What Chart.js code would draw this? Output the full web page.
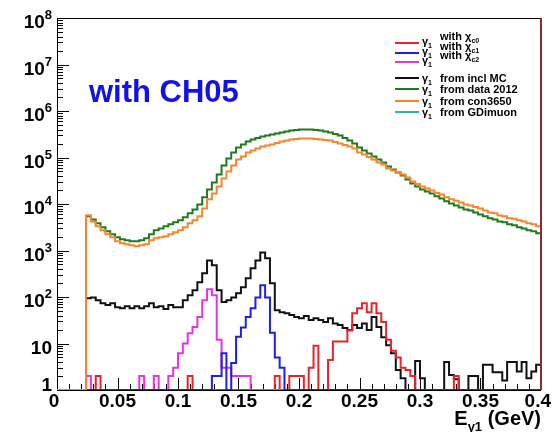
<!DOCTYPE html>
<html>
<head>
<meta charset="utf-8">
<script src="https://cdn.jsdelivr.net/npm/chart.js@4.4.0/dist/chart.umd.min.js"></script>
<style>
  html, body { margin: 0; padding: 0; background: #fff; }
</style>
</head>
<body>
<canvas id="myChart" width="554" height="432"></canvas>
<script>
// binning of the E_gamma1 histograms: 100 bins, 0 - 0.4 GeV
const xMin = 0;
const xMax = 0.4;
const nBins = 100;

const xTicks = [0, 0.05, 0.1, 0.15, 0.2, 0.25, 0.3, 0.35, 0.4];
const xTickLabels = ['0', '0.05', '0.1', '0.15', '0.2', '0.25', '0.3', '0.35', '0.4'];
const yTicks = [1, 1e1, 1e2, 1e3, 1e4, 1e5, 1e6, 1e7, 1e8];
const yTickLabels = ['1', '10', '10^{2}', '10^{3}', '10^{4}', '10^{5}', '10^{6}', '10^{7}', '10^{8}'];

const seriesNames = ['with χ_{c0}', 'with χ_{c1}', 'with χ_{c2}', 'from incl MC', 'from data 2012', 'from con3650', 'from GDimuon'];
const seriesColors = ['#e8232a', '#1f1fe6', '#e633e6', '#111111', '#1e7b1e', '#f7862f', '#2ab5b5'];

// bin contents (empty bins sit on the axis minimum, 1)
const chic0 = [
  1, 1, 1, 1, 1, 1, 1, 1, 2, 1,
  1, 1, 1, 1, 1, 1, 1, 1, 1, 1,
  1, 1, 1, 1, 1, 1, 1, 2, 1, 1,
  1, 1, 1, 1, 1, 1, 1, 1, 1, 1,
  1, 1, 1, 1, 1, 2, 1, 1, 2, 2,
  2, 1, 3, 9, 1, 1, 4.4, 11, 11, 11,
  19, 45, 57, 73, 47, 73, 45, 29, 12, 7,
  5, 3, 2.7, 2, 1, 1, 1, 1, 1, 1,
  1, 1, 2, 1, 1, 1, 1, 1, 1, 1,
  1, 1, 1, 1, 1, 1, 1, 1, 1, 1,
];
const chic1 = [
  1, 1, 1, 1, 1, 1, 1, 1, 1, 1,
  1, 1, 1, 1, 1, 1, 1, 1, 1, 1,
  1, 1, 1, 1, 1, 1, 1, 1, 1, 1,
  1, 1, 2, 2, 6.2, 1, 3.8, 14, 22, 37,
  57, 98, 180, 98, 17, 5, 3, 1, 1, 1,
  1, 1, 1, 1, 1, 1, 1, 1, 1, 1,
  1, 1, 1, 1, 1, 1, 1, 1, 1, 1,
  1, 1, 1, 1, 1, 1, 1, 1, 1, 1,
  1, 1, 1, 1, 1, 1, 1, 1, 1, 1,
  1, 1, 1, 1, 1, 1, 1, 1, 1, 1,
];
const chic2 = [
  1, 1, 1, 1, 1, 1, 2, 1, 1, 1,
  1, 1, 1, 1, 1, 1, 1, 2, 1, 1,
  2, 1, 1, 2, 3, 6.2, 10, 16.7, 22.5, 37,
  85, 147, 109, 12, 3, 3, 2, 2, 2, 2,
  1, 1, 1, 1, 1, 1, 1, 1, 1, 1,
  1, 1, 1, 1, 1, 1, 1, 1, 1, 1,
  1, 1, 1, 1, 1, 1, 1, 1, 1, 1,
  1, 1, 1, 1, 1, 1, 1, 1, 1, 1,
  1, 1, 1, 1, 1, 1, 1, 1, 1, 1,
  1, 1, 1, 1, 1, 1, 1, 1, 1, 1,
];
const inclMC = [
  1, 1, 1, 1, 1, 1, 94, 98, 85, 73,
  67, 73, 60, 57, 63, 57, 63, 57, 63, 73,
  60, 63, 55, 67, 60, 60, 85, 109, 139, 207,
  325, 610, 480, 139, 78, 85, 98, 120, 162, 253,
  415, 610, 910, 680, 197, 52, 47, 45, 41, 37,
  35, 39, 32, 35, 32, 29, 35, 27, 25, 21.5,
  19.4, 25, 21.5, 27, 19.4, 37, 22.5, 13.7, 9.2, 6.2,
  2.7, 1.8, 1, 1, 4.2, 1.8, 1, 1, 1, 1,
  4, 2.1, 1.7, 1, 1, 2, 2, 1, 3.5, 3.5,
  2.4, 2.4, 1.6, 4, 4, 2.5, 4, 1.8, 2.5, 3.5,
];
const data2012 = [
  1, 1, 1, 1, 1, 1, 5420, 4670, 3840, 3150,
  2580, 2230, 1920, 1740, 1660, 1580, 1580, 1660, 1830, 2230,
  2710, 2990, 3310, 3650, 4030, 4450, 5160, 6290, 7660, 9800,
  13900, 20600, 29100, 43200, 67300, 95200, 128000, 164000, 190000, 220000,
  243000, 262000, 282000, 297000, 312000, 327000, 344000, 361000, 380000, 389000,
  399000, 399000, 399000, 389000, 380000, 361000, 344000, 319000, 297000, 262000,
  232000, 200000, 164000, 141000, 122000, 105000, 90600, 78100, 64100, 55300,
  47700, 41100, 33700, 27700, 23900, 20600, 18600, 16900, 14600, 13200,
  11400, 10300, 9330, 8450, 7660, 7290, 6600, 5980, 5420, 4910,
  4670, 4230, 4030, 3650, 3470, 3150, 2990, 2710, 2580, 2340,
];
const con3650 = [
  1, 1, 1, 1, 1, 1, 5700, 4230, 3310, 2710,
  2230, 1920, 1580, 1430, 1360, 1290, 1230, 1290, 1360, 1660,
  1830, 1920, 2020, 2230, 2460, 2710, 3150, 3840, 4450, 5420,
  8050, 12600, 16900, 23900, 35400, 50100, 67300, 90600, 105000, 128000,
  141000, 156000, 172000, 181000, 190000, 205000, 220000, 232000, 243000, 249000,
  256000, 256000, 256000, 249000, 243000, 237000, 232000, 215000, 200000, 185000,
  172000, 156000, 128000, 116000, 102000, 90600, 78100, 70800, 58100, 52600,
  47700, 43200, 37200, 30500, 27000, 23900, 21600, 19600, 17300, 16100,
  13900, 12600, 11700, 10800, 9800, 9330, 8660, 8050, 7290, 6600,
  6290, 5690, 5420, 4910, 4790, 4450, 4230, 3840, 3650, 3310,
];
const gdimuon = [
  1, 1, 1, 1, 1, 1, 1, 1, 1, 1,
  1, 1, 1, 1, 1, 1, 1, 1, 1, 1,
  1, 1, 1, 1, 1, 1, 1, 1, 1, 1,
  1, 1, 1, 1, 1, 1, 1, 1, 1, 1,
  1, 1, 1, 1, 1, 1, 1, 1, 1, 1,
  1, 1, 1, 1, 1, 1, 1, 1, 1, 1,
  1, 1, 1, 1, 1, 1, 1, 1, 1, 1,
  1, 1, 1, 1, 1, 1, 1, 1, 1, 1,
  1, 1, 1, 1, 1, 1, 1, 1, 1, 1,
  1, 1, 1, 1, 1, 1, 1, 1, 1, 1,
];

const binEdges = Array.from({ length: nBins + 1 }, (_, i) => xMin + (i * (xMax - xMin)) / nBins);

// left bin edges + closing point so every bin gets its flat step
function toSteps(values) {
  const pts = values.map((v, i) => ({ x: binEdges[i], y: v }));
  pts.push({ x: binEdges[nBins], y: values[nBins - 1] });
  return pts;
}

const allSeries = [chic0, chic1, chic2, inclMC, data2012, con3650, gdimuon];
const drawOrder = [4, 2, 3, 5, 1, 0, 6]; // higher = drawn earlier

function boldFont(size) {
  return `bold ${size}px "Liberation Sans", Arial, Helvetica, sans-serif`;
}

// text with _{sub} and ^{sup} pieces
function drawRich(ctx, text, x, y, size, align) {
  const parts = [];
  const re = /([_^])\{([^}]*)\}/g;
  let last = 0;
  let m;
  while ((m = re.exec(text))) {
    if (m.index > last) parts.push({ t: text.slice(last, m.index), k: '' });
    parts.push({ t: m[2], k: m[1] });
    last = re.lastIndex;
  }
  if (last < text.length) parts.push({ t: text.slice(last), k: '' });

  const small = Math.round(size * 0.66);
  let w = 0;
  parts.forEach((p) => {
    ctx.font = boldFont(p.k ? small : size);
    p.w = ctx.measureText(p.t).width;
    w += p.w;
  });
  let cx = align === 'right' ? x - w : align === 'center' ? x - w / 2 : x;
  parts.forEach((p) => {
    ctx.font = boldFont(p.k ? small : size);
    const dy = p.k === '_' ? size * 0.3 : p.k === '^' ? -size * 0.45 : 0;
    ctx.fillText(p.t, cx, y + dy);
    cx += p.w;
  });
  return w;
}

const rootStyle = {
  id: 'rootStyle',
  beforeDatasetsDraw(chart) {
    const { ctx, chartArea: a, scales } = chart;
    ctx.save();
    ctx.strokeStyle = '#000';
    ctx.lineWidth = 1;
    ctx.strokeRect(a.left + 0.5, a.top + 0.5, a.right - a.left - 1, a.bottom - a.top);

    ctx.beginPath();
    for (let e = 0; e < 8; e++) {
      for (let k = 1; k <= 9; k++) {
        const py = Math.round(scales.y.getPixelForValue(k * Math.pow(10, e))) + 0.5;
        ctx.moveTo(a.left, py);
        ctx.lineTo(a.left + (k === 1 ? 12 : 6), py);
      }
    }
    for (let i = 0; i <= 40; i++) {
      const px = Math.round(scales.x.getPixelForValue(i / 100)) + 0.5;
      ctx.moveTo(px, a.bottom);
      ctx.lineTo(px, a.bottom - (i % 5 === 0 ? 12 : 6));
    }
    ctx.stroke();
    ctx.restore();
  },
  afterDraw(chart) {
    const { ctx, chartArea: a, scales } = chart;
    ctx.save();

    // right frame edge
    ctx.strokeStyle = '#8b2b2b';
    ctx.lineWidth = 2;
    ctx.beginPath();
    ctx.moveTo(a.right, a.top);
    ctx.lineTo(a.right, a.bottom);
    ctx.stroke();

    ctx.fillStyle = '#000';
    ctx.textBaseline = 'alphabetic';

    // y labels
    yTicks.forEach((v, i) => {
      const py = Math.min(scales.y.getPixelForValue(v) + 3, a.bottom - 6);
      drawRich(ctx, yTickLabels[i], 52, py + 7, 19, 'right');
    });

    // x labels
    xTicks.forEach((v, i) => {
      ctx.font = boldFont(19);
      const w = ctx.measureText(xTickLabels[i]).width;
      let cx = scales.x.getPixelForValue(v);
      if (i === 0) cx -= 3;
      cx = Math.min(cx, 551 - w / 2);
      drawRich(ctx, xTickLabels[i], cx, a.bottom + 17, 19, 'center');
    });

    // axis title
    drawRich(ctx, 'E_{γ1} (GeV)', a.right, a.bottom + 35, 20, 'right');

    // big label
    ctx.fillStyle = '#1212e6';
    ctx.font = boldFont(31);
    ctx.fillText('with CH05', 89, 102);

    // legend
    const rows = [43, 53, 62, 78, 89, 101, 112];
    seriesNames.forEach((name, i) => {
      const ly = rows[i];
      ctx.strokeStyle = seriesColors[i];
      ctx.lineWidth = 2;
      ctx.beginPath();
      ctx.moveTo(395, ly);
      ctx.lineTo(419, ly);
      ctx.stroke();
      ctx.fillStyle = '#000';
      const raised = name.startsWith('with');
      drawRich(ctx, 'γ_{1}', 422, raised ? ly + 2 : ly + 4, 11, 'left');
      drawRich(ctx, name, 440, raised ? ly - 3 : ly + 4, 11, 'left');
    });

    ctx.restore();
  },
};

const ctx = document.getElementById('myChart');
new Chart(ctx, {
  type: 'line',
  data: {
    datasets: allSeries.map((values, i) => ({
      label: seriesNames[i],
      data: toSteps(values),
      borderColor: seriesColors[i],
      backgroundColor: seriesColors[i],
      borderWidth: 2,
      pointRadius: 0,
      stepped: true,
      fill: false,
      order: drawOrder[i],
    })),
  },
  options: {
    responsive: false,
    animation: false,
    devicePixelRatio: 1,
    layout: { padding: { left: 57, right: 13, top: 18, bottom: 42 } },
    scales: {
      x: { type: 'linear', min: xMin, max: xMax, display: false },
      y: { type: 'logarithmic', min: 1, max: 1e8, display: false },
    },
    plugins: {
      legend: { display: false },
      tooltip: { enabled: false },
    },
  },
  plugins: [rootStyle],
});
</script>
</body>
</html>
